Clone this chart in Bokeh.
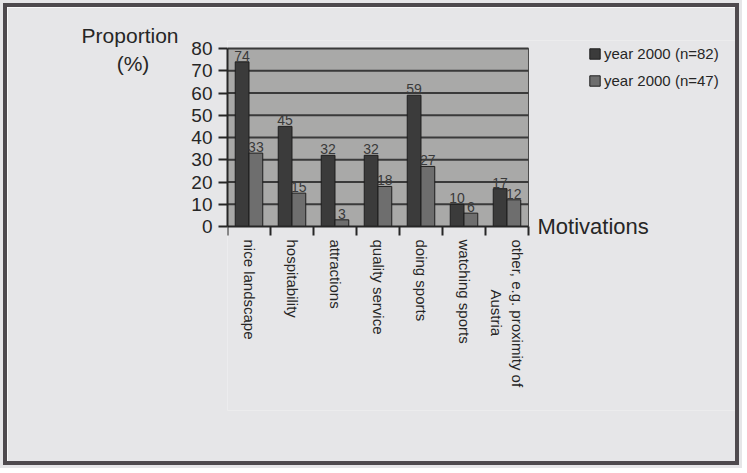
import math
from bokeh.plotting import figure
from bokeh.models import (Range1d, FixedTicker, ColumnDataSource, LabelSet, Label,
                          Legend, LegendItem, LinearAxis)
from bokeh.core.properties import value
from bokeh.embed import file_html
from bokeh.resources import INLINE

categories = ["nice landscape", "hospitability", "attractions", "quality service",
              "doing sports", "watching sports",
              "other, e.g. proximity of\n" + "\u00a0" * 12 + "Austria"]
series1_name = "year 2000 (n=82)"
series2_name = "year 2000 (n=47)"
series1 = [74, 45, 32, 32, 59, 10, 17]
series2 = [33, 15, 3, 18, 27, 6, 12]
y_ticks = [0, 10, 20, 30, 40, 50, 60, 70, 80]
y_title = "Proportion\n(%)" + "\u00a0" * 5
x_title = "Motivations"

FONT = "Liberation Sans"
TXT = "#262626"
BG = "#e6e6e8"
n = len(categories)
y_min, y_max = y_ticks[0], y_ticks[-1]
x1 = [i + 0.34 for i in range(n)]
x2 = [i + 0.66 for i in range(n)]

src1 = ColumnDataSource(dict(x=x1, top=series1, lab=[str(v) for v in series1]))
src2 = ColumnDataSource(dict(x=x2, top=series2, lab=[str(v) for v in series2]))

# the frame spans beyond the bar area so that the legend, the x axis labels and
# the "Motivations" text (all drawn inside it) are not clipped
p = figure(width=736, height=462, output_backend="svg", toolbar_location=None,
           x_range=Range1d(0, 11.814), y_range=Range1d(-82.7, 83.6),
           min_border_left=220, min_border_right=8, min_border_top=33, min_border_bottom=59)
p.styles = {"border": "4px solid #4e4a4e", "margin": "3px 0 0 3px",
            "box-shadow": "0 0 0 3px " + BG}
p.border_fill_color = BG
p.background_fill_color = BG
p.outline_line_color = None
p.xgrid.visible = False
p.ygrid.visible = False

# plot area and gridlines
p.quad(left=[0], right=[n], bottom=[y_min], top=[y_max],
       fill_color="#a9a9a8", line_color="#4a4a4a", line_width=1)
p.segment(x0=[0] * (len(y_ticks) - 1), x1=[n] * (len(y_ticks) - 1),
          y0=y_ticks[1:], y1=y_ticks[1:], line_color="#3a3a3a", line_width=1.8)

r1 = p.vbar(x="x", top="top", width=0.32, source=src1, fill_color="#3b3b3b", line_color="#1e1e1e")
r2 = p.vbar(x="x", top="top", width=0.32, source=src2, fill_color="#6e6e6e", line_color="#1e1e1e")

for src in (src1, src2):
    p.add_layout(LabelSet(x="x", y="top", text="lab", source=src, text_align="center",
                          text_baseline="bottom", y_offset=1, text_font=value(FONT),
                          text_font_size=value("14px"), text_color=value("#3a3a3a")))

# x axis at y = 0
xa = p.xaxis[0]
xa.fixed_location = 0
xa.bounds = (0, n)
xa.ticker = FixedTicker(ticks=[i + 0.5 for i in range(n)], minor_ticks=list(range(n + 1)))
xa.major_label_overrides = {i + 0.5: c for i, c in enumerate(categories)}
xa.major_tick_line_color = None
xa.minor_tick_in = 0
xa.minor_tick_out = 9
xa.minor_tick_line_color = TXT
xa.minor_tick_line_width = 2
xa.major_label_orientation = -math.pi / 2
xa.major_label_standoff = 4
xa.major_label_text_font = FONT
xa.major_label_text_font_size = "15px"
xa.major_label_text_color = TXT
xa.axis_line_color = TXT
xa.axis_line_width = 2

# y axis
ya = p.yaxis[0]
ya.bounds = (y_min, y_max)
ya.ticker = FixedTicker(ticks=y_ticks, minor_ticks=[])
ya.major_tick_in = 0
ya.major_tick_out = 9
ya.major_tick_line_color = TXT
ya.major_tick_line_width = 2
ya.major_label_standoff = 6
ya.major_label_text_font = FONT
ya.major_label_text_font_size = "19px"
ya.major_label_text_color = TXT
ya.axis_line_color = TXT
ya.axis_line_width = 2

# y title: extra left axis with one labelled position near the top
la = LinearAxis(ticker=FixedTicker(ticks=[79.5], minor_ticks=[]),
                major_label_overrides={79.5: y_title})
la.axis_line_color = None
la.major_tick_line_color = None
la.major_label_standoff = 4
la.major_label_text_font = FONT
la.major_label_text_font_size = "21px"
la.major_label_text_color = TXT
la.major_label_text_line_height = 1.2
p.add_layout(la, "left")

p.add_layout(Label(x=7.21, y=0, text=x_title, text_align="left", text_baseline="middle",
                   text_font=FONT, text_font_size="22px", text_color=TXT))

legend = Legend(items=[LegendItem(label=series1_name, renderers=[r1]),
                       LegendItem(label=series2_name, renderers=[r2])],
                location=(361, 321), padding=0, margin=0, spacing=10,
                glyph_width=13, glyph_height=13, label_standoff=3,
                label_text_font=FONT, label_text_font_size="15px",
                label_text_color=TXT, border_line_color=None,
                background_fill_alpha=0)
p.add_layout(legend)

open("out.html", "w").write(file_html(p, INLINE))
